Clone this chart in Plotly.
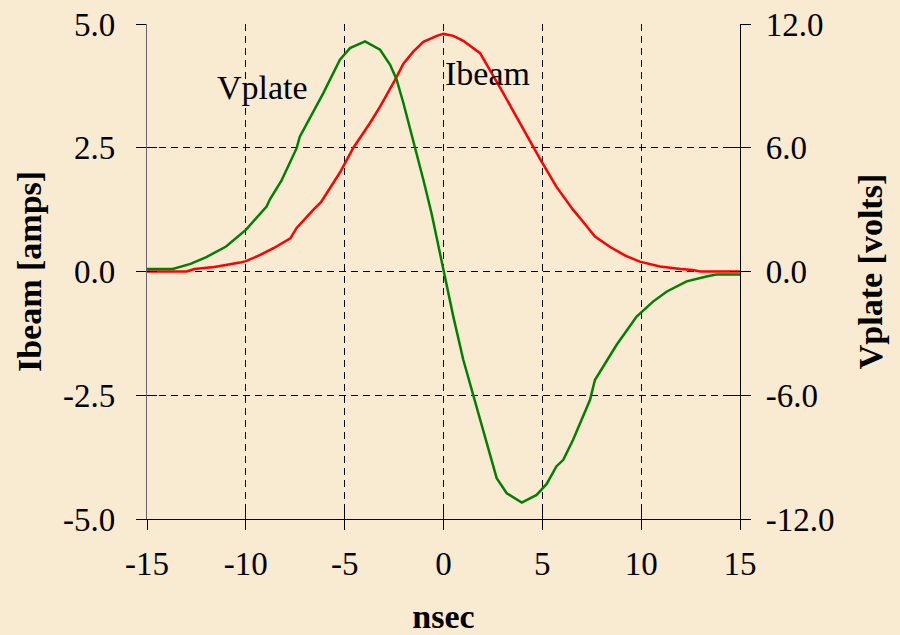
import plotly.graph_objects as go

# ---- data ----
ibeam_t = [-15, -13.0, -12.6, -11.6, -10.3, -10.0, -9.3, -8.6, -7.75, -7.43, -6.58, -6.2,
           -5.24, -4.56, -3.72, -3.21, -2.45, -2.03, -1.53, -1.02, -0.34, 0.0, 0.5, 1.0,
           1.85, 2.5, 3.0, 3.5, 4.2, 4.86, 5.7, 6.55, 7.05, 7.65, 8.41, 9.2, 9.93, 10.95,
           12.0, 12.6, 13.0, 15]
ibeam_amps = [0.0, 0.0, 0.05, 0.09, 0.18, 0.21, 0.33, 0.47, 0.67, 0.88, 1.25, 1.4,
              2.0, 2.5, 3.0, 3.33, 3.87, 4.2, 4.44, 4.64, 4.76, 4.8, 4.76, 4.66,
              4.41, 3.97, 3.62, 3.26, 2.75, 2.29, 1.72, 1.25, 1.01, 0.71, 0.5, 0.32, 0.2, 0.1,
              0.05, 0.03, 0.0, 0.0]

vplate_t = [-15, -13.7, -12.8, -12.0, -11.0, -10.0, -8.95, -8.78, -8.2, -7.43, -7.27, -6.08,
            -5.24, -4.73, -3.97, -3.21, -2.7, -2.37, -2.03, -1.53, -1.02, -0.6, 0.0, 0.5,
            1.0, 1.52, 2.01, 2.52, 2.69, 3.2, 3.96, 4.71, 5.22, 5.71, 6.06, 6.55, 6.9,
            7.41, 7.66, 8.76, 9.77, 10.6, 11.3, 12.3, 13.3, 13.8, 15]
vplate_volts = [0.12, 0.12, 0.37, 0.7, 1.21, 2.02, 3.15, 3.5, 4.4, 5.98, 6.54, 8.65,
                10.27, 10.83, 11.16, 10.75, 10.02, 9.3, 8.17, 6.39, 4.45, 2.8, 0.0, -2.2,
                -4.28, -6.07, -7.68, -9.45, -10.02, -10.75, -11.2, -10.83, -10.3, -9.45, -9.13, -8.17, -7.36,
                -6.23, -5.26, -3.55, -2.18, -1.46, -0.97, -0.48, -0.24, -0.15, -0.15]

x_ticks = [-15, -10, -5, 0, 5, 10, 15]
left_ticks = [-5.0, -2.5, 0.0, 2.5, 5.0]
left_tick_text = ["-5.0", "-2.5", "0.0", "2.5", "5.0"]
right_ticks = [-12.0, -6.0, 0.0, 6.0, 12.0]
right_tick_text = ["-12.0", "-6.0", "0.0", "6.0", "12.0"]

SERIF = "Liberation Serif"
BG = "#F9EBD2"

fig = go.Figure()
fig.add_trace(go.Scatter(x=ibeam_t, y=ibeam_amps, mode="lines", name="Ibeam",
                         line=dict(color="#FF0000", width=2.5), xaxis="x", yaxis="y",
                         showlegend=False))
fig.add_trace(go.Scatter(x=vplate_t, y=vplate_volts, mode="lines", name="Vplate",
                         line=dict(color="#008000", width=2.5), xaxis="x", yaxis="y2",
                         showlegend=False))
# empty traces so the inside-tick overlay axes get drawn
fig.add_trace(go.Scatter(x=[], y=[], xaxis="x2", yaxis="y3", showlegend=False, hoverinfo="skip"))
fig.add_trace(go.Scatter(x=[], y=[], xaxis="x2", yaxis="y4", showlegend=False, hoverinfo="skip"))

tickfont = dict(family=SERIF, size=33, color="black")
titlefont = dict(family=SERIF, size=34, color="black", weight="bold")

fig.update_layout(
    width=900, height=635,
    paper_bgcolor=BG, plot_bgcolor=BG,
    margin=dict(l=147, r=160, t=24, b=116, autoexpand=False),
    xaxis=dict(range=[-15, 15], tickvals=x_ticks, ticktext=[str(v) for v in x_ticks],
               ticks="outside", ticklen=10, tickwidth=1.2, tickcolor="black",
               showline=True, linecolor="black", linewidth=1.2, automargin=False,
               showgrid=True, gridcolor="black", gridwidth=1, griddash="7px,5px",
               zeroline=False, tickfont=tickfont, ticklabelstandoff=5,
               title=dict(text="nsec", font=titlefont, standoff=27)),
    yaxis=dict(range=[-5, 5], tickvals=left_ticks, ticktext=left_tick_text,
               ticks="outside", ticklen=10, tickwidth=1.2, tickcolor="black",
               showline=True, linecolor="#666666", linewidth=1.2, automargin=False,
               showgrid=True, gridcolor="black", gridwidth=1, griddash="7px,5px",
               zeroline=False, tickfont=tickfont, ticklabelstandoff=14,
               title=dict(text="Ibeam [amps]", font=titlefont, standoff=11)),
    yaxis2=dict(range=[-12, 12], tickvals=right_ticks, ticktext=right_tick_text,
                overlaying="y", side="right", anchor="x", automargin=False,
                ticks="outside", ticklen=10, tickwidth=1.2, tickcolor="black",
                showline=True, linecolor="black", linewidth=1.2,
                showgrid=False, zeroline=False, tickfont=tickfont, ticklabelstandoff=8,
                title=dict(text="Vplate [volts]", font=titlefont, standoff=24)),
    xaxis2=dict(range=[-15, 15], tickvals=x_ticks, overlaying="x", side="bottom", anchor="y3",
                ticks="inside", ticklen=10, tickwidth=1.2, tickcolor="black", automargin=False,
                showticklabels=False, showgrid=False, zeroline=False, showline=False),
    yaxis3=dict(range=[-5, 5], tickvals=left_ticks, overlaying="y", side="left", anchor="x2",
                ticks="inside", ticklen=10, tickwidth=1.2, tickcolor="black", automargin=False,
                showticklabels=False, showgrid=False, zeroline=False, showline=False),
    yaxis4=dict(range=[-12, 12], tickvals=right_ticks, overlaying="y", side="right", anchor="x2",
                ticks="inside", ticklen=10, tickwidth=1.2, tickcolor="black", automargin=False,
                showticklabels=False, showgrid=False, zeroline=False, showline=False),
    annotations=[
        dict(x=-9.18, y=3.71, xref="x", yref="y", text="Vplate", showarrow=False,
             font=dict(family=SERIF, size=34, color="black")),
        dict(x=2.25, y=4.01, xref="x", yref="y", text="Ibeam", showarrow=False,
             font=dict(family=SERIF, size=34, color="black")),
    ],
)

fig.write_html("out.html", config={"displayModeBar": False},
               post_script="document.body.style.margin='0';document.body.style.overflow='hidden';")
